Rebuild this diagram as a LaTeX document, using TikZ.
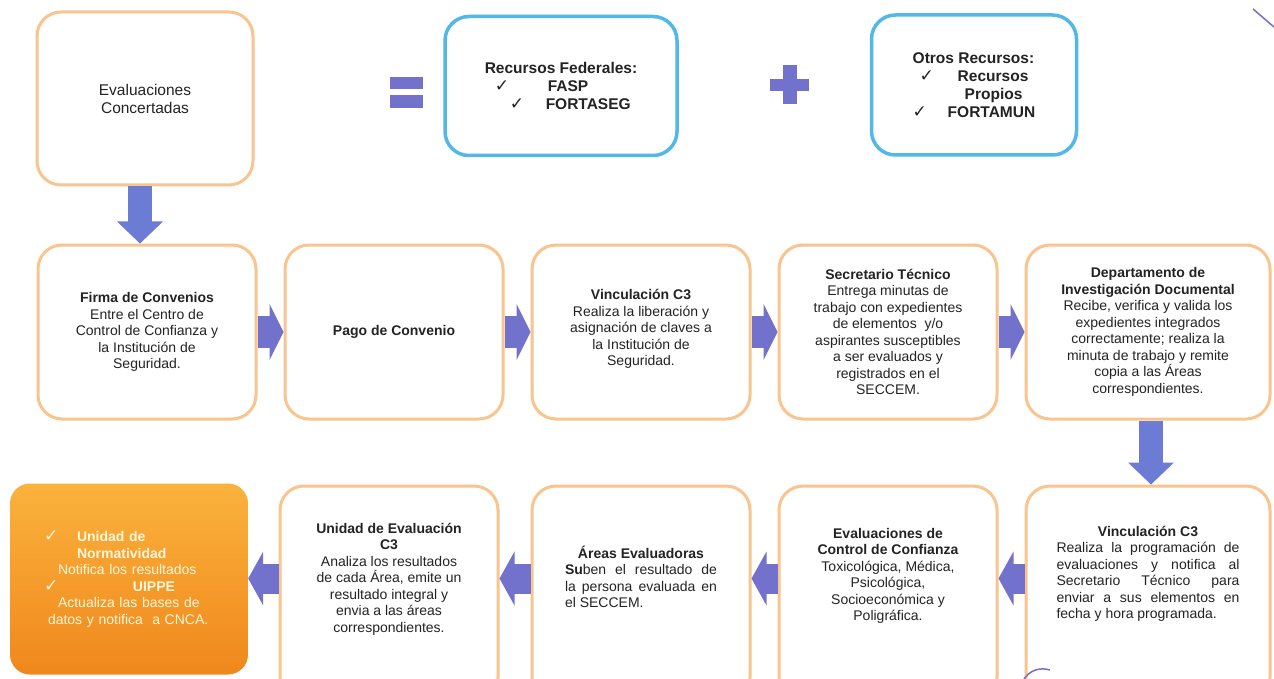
\documentclass[tikz,border=0pt]{standalone}
\usepackage{fontspec}
\setmainfont{Liberation Sans}
\newfontfamily\symfont{DejaVu Sans}
\usetikzlibrary{positioning, arrows.meta}

\definecolor{boxorange}{RGB}{249,196,142}
\definecolor{boxblue}{RGB}{82,184,232}
\definecolor{arrowpurple}{RGB}{114,114,204}
\definecolor{arrowblue}{RGB}{108,124,212}
\definecolor{fillorangeA}{RGB}{250,178,60}
\definecolor{fillorangeB}{RGB}{240,136,28}
\definecolor{txtgray}{RGB}{35,35,35}
\definecolor{txtlight}{RGB}{255,246,220}

\newcommand{\chk}{{\symfont\mdseries\fontsize{17}{17}\selectfont ✓}}
\newcommand{\jline}[2]{\makebox[#1][s]{#2}}

\begin{document}
\begin{tikzpicture}[x=1pt, y=-1pt, node distance=26pt,
    box/.style={rectangle, rounded corners=24pt, draw=boxorange, line width=3pt, fill=white, text=txtgray,
      minimum width=218pt, minimum height=174pt, align=center, font=\fontsize{14}{16.5}\selectfont},
    tall/.style={minimum height=215pt},
    btext/.style={align=center, text=txtgray, font=\fontsize{14}{16.5}\selectfont},
    topbox/.style={box, minimum width=216pt, minimum height=173pt, font=\fontsize{15.5}{18}\selectfont},
    bluebox/.style={rectangle, rounded corners=24pt, draw=boxblue, line width=3.5pt, fill=white, text=txtgray,
      align=left, font=\fontsize{15.5}{18}\selectfont\bfseries},
    orangebox/.style={rectangle, rounded corners=20pt, top color=fillorangeA, bottom color=fillorangeB, draw=none,
      minimum width=238pt, minimum height=191pt, text width=170pt, align=left, text=txtlight,
      font=\fontsize{14}{16.5}\selectfont},
    rarrow/.style={draw=arrowpurple, line width=32pt, -{Triangle[length=14pt, width=56pt, line width=0pt]},
      postaction={draw=arrowpurple, -, shorten >=10pt}},
    larrow/.style={draw=arrowpurple, line width=30pt, -{Triangle[length=15pt, width=54pt, line width=0pt]},
      postaction={draw=arrowpurple, -, shorten >=11pt}},
    darrow/.style={draw=arrowblue, line width=24pt, -{Triangle[length=22pt, width=46pt, line width=0pt]},
      postaction={draw=arrowblue, -, shorten >=18pt}}]

\useasboundingbox (0,0) rectangle (1274,679);
\fill[white] (0,0) rectangle (1274,679);

% top row
\node[topbox] (eval) at (145,98.5) {Evaluaciones\\Concertadas};
\node[bluebox, minimum width=232pt, minimum height=139pt] (federal) at (561,86)
  {Recursos Federales:\\
   \makebox[63pt][l]{\hspace*{10pt}\chk}FASP\\
   \makebox[61pt][l]{\hspace*{25pt}\chk}FORTASEG};
\node[bluebox, minimum width=205pt, minimum height=140pt] (otros) at (974,85)
  {Otros Recursos:\\
   \makebox[45pt][l]{\hspace*{7pt}\chk}Recursos\\
   \hspace*{52pt}Propios\\
   \makebox[35pt][l]{\chk}FORTAMUN};

% equals and plus
\fill[arrowpurple] (390,77) rectangle (423,89);
\fill[arrowpurple] (390,95) rectangle (423,108);
\fill[arrowpurple] (783,65) rectangle (797,104);
\fill[arrowpurple] (770,79) rectangle (809,91);

% middle row
\node[box] (firma) at (147,332)
  {\textbf{Firma de Convenios}\\Entre el Centro de\\Control de Confianza y\\la Institución de\\Seguridad.};
\node[box, right=of firma] (pago) {\textbf{Pago de Convenio}};
\node[box, right=of pago] (vinc)
  {\textbf{Vinculación C3}\\Realiza la liberación y\\asignación de claves a\\la Institución de\\Seguridad.\\[-8pt]};
\node[box, right=of vinc] (secre)
  {\textbf{Secretario Técnico}\\Entrega minutas de\\trabajo con expedientes\\de elementos\ \ y/o\\aspirantes susceptibles\\a ser evaluados y\\registrados en el\\SECCEM.};
\node[box, right=of secre, minimum width=244pt] (depto)
  {\textbf{Departamento de}\\\textbf{Investigación Documental}\\Recibe, verifica y valida los\\expedientes integrados\\correctamente; realiza la\\minuta de trabajo y remite\\copia a las Áreas\\correspondientes.};

% bottom row
\node[box, tall, below=64pt of pago, xshift=-5pt] (unidad) {};
\node[box, tall, below=64pt of vinc] (areas) {};
\node[box, tall, below=64pt of secre] (evalcc) {};
\node[box, tall, below=64pt of depto, minimum width=244pt] (vinc2) {};
\node[orangebox] (norma) at (129,579)
  {\makebox[33pt][l]{\chk}\textbf{Unidad de}\\
   \hspace*{33pt}\textbf{Normatividad}\\
   \hspace*{14pt}Notifica los resultados\\
   \makebox[89pt][l]{\chk}\textbf{UIPPE}\\
   \hspace*{14pt}Actualiza las bases de\\
   \hspace*{4pt}datos y notifica\ \ a CNCA.};

\node[btext] (unidadtxt) at ([yshift=14.5pt]unidad.center)
  {\textbf{Unidad de Evaluación}\\\textbf{C3}\\Analiza los resultados\\de cada Área, emite un\\resultado integral y\\envia a las áreas\\correspondientes.};
\node[btext, align=left] (areastxt) at ([yshift=16.5pt]areas.center)
  {\makebox[152pt]{\textbf{Áreas Evaluadoras}}\\
   \jline{152pt}{\textbf{Su}ben el resultado de}\\
   \jline{152pt}{la persona evaluada en}\\
   el SECCEM.};
\node[btext] (evalcctxt) at ([yshift=17.5pt]evalcc.center)
  {\textbf{Evaluaciones de}\\\textbf{Control de Confianza}\\Toxicológica, Médica,\\Psicológica,\\Socioeconómica y\\Poligráfica.};
\node[btext, align=left] (vinc2txt) at ([yshift=19.5pt]vinc2.center)
  {\makebox[183pt]{\textbf{Vinculación C3}}\\
   \jline{183pt}{Realiza la programación de}\\
   \jline{183pt}{evaluaciones y notifica al}\\
   \jline{183pt}{Secretario Técnico para}\\
   \jline{183pt}{enviar a sus elementos en}\\
   fecha y hora programada.};

% arrows
\draw[darrow] ([xshift=-5pt]eval.south) -- ([xshift=-5pt]eval.south |- firma.north);
\draw[rarrow] (firma) -- (pago);
\draw[rarrow] (pago) -- (vinc);
\draw[rarrow] (vinc) -- (secre);
\draw[rarrow] (secre) -- (depto);
\draw[darrow] ([xshift=3pt]depto.south) -- ([xshift=3pt]depto.south |- vinc2.north);
\draw[larrow] ([yshift=15pt]vinc2.west) -- ([yshift=15pt]evalcc.east);
\draw[larrow] ([yshift=15pt]evalcc.west) -- ([yshift=15pt]areas.east);
\draw[larrow] ([yshift=15pt]areas.west) -- ([yshift=15pt]unidad.east);
\draw[larrow] ([yshift=15pt]unidad.west) -- ([yshift=15pt]unidad.west -| norma.east);

% scan edges
\draw[arrowpurple, line width=1.5pt] (1253,9) -- (1274,27);
\draw[arrowpurple, line width=1.5pt] (1024,679) .. controls (1030,670) and (1040,667) .. (1050,670);
\end{tikzpicture}
\end{document}
